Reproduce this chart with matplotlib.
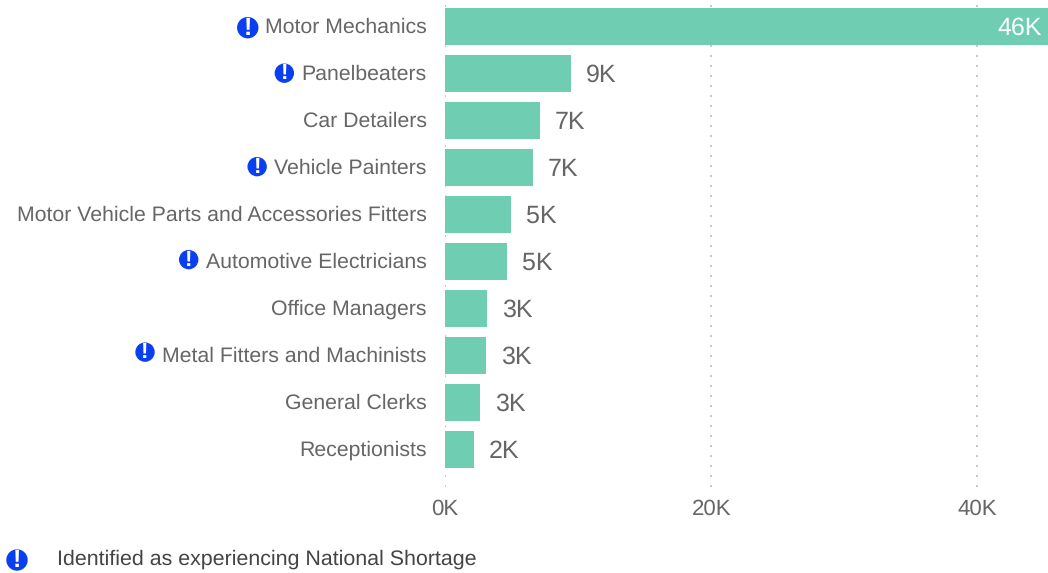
#!/usr/bin/env python3

"""plot.py: Horizontal bar chart of occupations, with a marker on the ones
identified as experiencing a national shortage."""

import matplotlib
matplotlib.use('Agg')
import matplotlib.pyplot as plt
from matplotlib.patches import Circle
from matplotlib.transforms import IdentityTransform, ScaledTranslation

occupations = ['Motor Mechanics', 'Panelbeaters', 'Car Detailers',
    'Vehicle Painters', 'Motor Vehicle Parts and Accessories Fitters',
    'Automotive Electricians', 'Office Managers',
    'Metal Fitters and Machinists', 'General Clerks', 'Receptionists']
workers = [46, 9.47, 7.13, 6.62, 4.97, 4.65, 3.14, 3.06, 2.63, 2.18]
value_labels = ['46K', '9K', '7K', '7K', '5K', '5K', '3K', '3K', '3K', '2K']
shortage = ['Motor Mechanics', 'Panelbeaters', 'Vehicle Painters',
    'Automotive Electricians', 'Metal Fitters and Machinists']
xticks = [0, 20, 40]
xticklabels = ['0K', '20K', '40K']
legend_text = 'Identified as experiencing National Shortage'

GREEN = '#6fcdb2'
BLUE = '#0a3ff0'
GREY = '#666666'
WIDTH, HEIGHT = 1048, 573

# The icons do not sit at one height against their labels (pixels up).
icon_lift = {'Motor Mechanics': 0, 'Panelbeaters': 1.5, 'Vehicle Painters': 2,
    'Automotive Electricians': 3, 'Metal Fitters and Machinists': 4.5}

plt.rcParams['font.family'] = ['Liberation Sans', 'DejaVu Sans']
plt.rcParams['text.hinting'] = 'no_hinting'

fig = plt.figure(figsize=(WIDTH / 100, HEIGHT / 100), dpi=100)
ax = fig.add_axes([445 / WIDTH, 1 - 487 / HEIGHT, (WIDTH - 445) / WIDTH,
    (487 - 3) / HEIGHT])

positions = list(range(len(occupations)))
ax.barh(positions, workers, height=37 / 47, color=GREEN, zorder=3)
ax.set_xlim(0, 45.3)
ax.set_ylim(9.8, -0.5)

# Dotted vertical grid behind the bars.
ax.grid(axis='x', color='#bebebe', linewidth=1.3, linestyle=(0, (1, 4.54)),
    zorder=0)
ax.set_axisbelow(True)
for spine in ax.spines.values():
    spine.set_visible(False)

ax.set_yticks(positions, occupations)
ax.set_xticks(xticks, xticklabels)
ax.tick_params(axis='y', length=0, pad=13.3, labelsize=15.3, labelcolor=GREY)
ax.tick_params(axis='x', length=0, pad=8.7, labelsize=16, labelcolor=GREY)

# Category labels sit a pixel above the bar centre.
lift = ScaledTranslation(0, 1 / 100, fig.dpi_scale_trans)
for label in ax.get_yticklabels():
    label.set_transform(label.get_transform() + lift)

# Value labels, inside the bar when it runs off the plot.
for pos, value, label in zip(positions, workers, value_labels):
    if value > ax.get_xlim()[1]:
        ax.annotate(label, xy=(1, pos), xycoords=('axes fraction', 'data'),
            xytext=(-4.5, -1.3), textcoords='offset points', ha='right',
            va='center', fontsize=18, color='white', zorder=4)
    else:
        ax.annotate(label, xy=(value, pos), xytext=(10.8, -1.3),
            textcoords='offset points', ha='left', va='center', fontsize=18,
            color=GREY, zorder=4)

fig.text(57 / WIDTH, 1 - 559 / HEIGHT, legend_text, fontsize=15.4,
    color='#444444', ha='left', va='center')


def draw_icon(x, y, radius):
    # x and y are in pixels from the bottom left of the figure.
    fig.add_artist(Circle((x, y), radius, color=BLUE,
        transform=IdentityTransform()))
    fig.text(x / WIDTH, (y - 0.5) / HEIGHT, '!', color='white', ha='center',
        va='center', fontsize=radius * 1.8, fontweight='bold')


# Put the icons just left of the finished label text.
fig.canvas.draw()
renderer = fig.canvas.get_renderer()
for label in ax.get_yticklabels():
    name = label.get_text()
    if name in shortage:
        box = label.get_window_extent(renderer)
        draw_icon(box.x0 - 17, (box.y0 + box.y1) / 2 + icon_lift[name],
            10 if name == 'Motor Mechanics' else 9)
draw_icon(17, HEIGHT - 560, 10)

fig.savefig('out.png', dpi=100)
